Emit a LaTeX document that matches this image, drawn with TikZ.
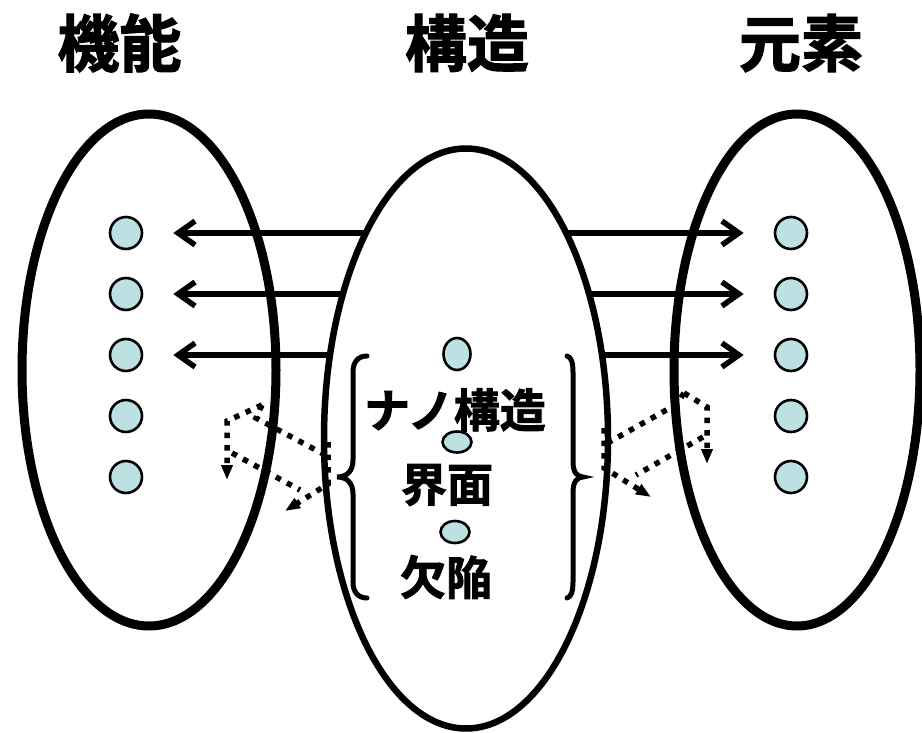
\documentclass[tikz,border=0pt]{standalone}
\usepackage{fontspec}
\newfontfamily\cjk{Noto Sans CJK JP}[BoldFont={Noto Sans CJK JP Bold}, BoldFeatures={FakeBold=2}]
\usetikzlibrary{arrows.meta,shapes.geometric}
\definecolor{dotfill}{RGB}{189,224,227}
\begin{document}
\begin{tikzpicture}[x=1pt,y=-1pt,
  bigell/.style={draw, line width=9pt},
  dotc/.style={circle, draw, line width=2.6pt, fill=dotfill, minimum size=32pt, inner sep=0pt},
  mdot/.style={ellipse, draw, line width=2.6pt, fill=dotfill, inner sep=0pt},
  arr/.style={line width=5.5pt, -{Straight Barb[length=17pt,width=24pt]}, shorten >=30pt},
  dotarr/.style={line width=5.5pt, dash pattern=on 5.5pt off 7pt},
  dtip/.style={-{Triangle[length=15pt,width=11pt]}},
  title/.style={font=\cjk\bfseries\fontsize{62}{62}\selectfont, inner sep=0pt},
  lbl/.style={font=\cjk\bfseries\fontsize{46}{46}\selectfont, inner sep=0pt},
  brace/.style={line width=5pt, line cap=round}
]
\useasboundingbox (0,0) rectangle (922,733);

% titles
\node[title] (t1) at (119.5,43) {機能};
\node[title] (t2) at (467,43) {構造};
\node[title] (t3) at (801,43) {元素};

% outer ellipses
\draw[bigell] (149,370) ellipse [x radius=127, y radius=256];
\draw[bigell] (797,370) ellipse [x radius=123, y radius=256];

% left and right dots
\foreach \i/\y in {1/233,2/294,3/355,4/416,5/477}{
  \node[dotc] (l\i) at (126,\y) {};
  \node[dotc] (r\i) at (791,\y) {};
}

% arrow start points (inside middle ellipse, covered by its fill)
\coordinate (s1) at (466,233);
\coordinate (s2) at (466,294);
\coordinate (s3) at (466,355);
\foreach \i in {1,2,3}{
  \draw[arr] (s\i) -- (l\i);
  \draw[arr] (s\i) -- (r\i);
}

% middle ellipse
\draw[line width=6.5pt, fill=white] (466,438.5) ellipse [x radius=142, y radius=290];

% middle labels
\node[lbl] (n1) at (455,410) {ナノ構造};
\node[lbl] (n2) at (447,485) {界面};
\node[lbl] (n3) at (446,577) {欠陥};

% middle dots
\node[mdot, minimum width=27pt, minimum height=32pt] (m1) at (457,354) {};
\node[mdot, minimum width=29pt, minimum height=21pt] (m2) at (457,442) {};
\node[mdot, minimum width=29pt, minimum height=22pt] (m3) at (455,532) {};

% braces
\draw[brace] (367,356) .. controls (358,356) and (353,362) .. (353,372)
  -- (353,460) .. controls (353,471) and (347,477) .. (337,477)
  .. controls (347,477) and (353,483) .. (353,494)
  -- (353,582) .. controls (353,592) and (358,598) .. (367,598);
\draw[brace] (567,356) .. controls (571,357) and (573,362) .. (573,372)
  -- (573,462) .. controls (573,472) and (577,477) .. (583,477)
  .. controls (577,477) and (573,482) .. (573,492)
  -- (573,582) .. controls (573,592) and (571,597) .. (567,598);

% left dotted arrows
\coordinate (la) at (227,480);
\coordinate (lc) at (227,421);
\coordinate (lt) at (262,405);
\coordinate (lk) at (256,418);
\coordinate (lm) at (329,457);
\coordinate (lv1) at (328,442);
\coordinate (lv2) at (328,484);
\coordinate (lb) at (285,511);
\coordinate (ls) at (232,453);
\coordinate (le) at (300,490);
\draw[dotarr,dtip] (lt) -- (lc) -- (la);
\draw[dotarr] (lt) -- (lk) -- (lm);
\draw[dotarr,dtip] (lv1) -- (lv2) -- (lb);
\draw[dotarr] (ls) -- (le);

% right dotted arrows
\coordinate (ra) at (707,464);
\coordinate (rc) at (707,407);
\coordinate (rt) at (684,393);
\coordinate (rk) at (677,404);
\coordinate (rm) at (604,445);
\coordinate (rv1) at (604,428);
\coordinate (rv2) at (604,468);
\coordinate (rb) at (651,497);
\coordinate (rs) at (703,437);
\coordinate (re) at (636,475);
\draw[dotarr,dtip] (rt) -- (rc) -- (ra);
\draw[dotarr] (rt) -- (rk) -- (rm);
\draw[dotarr,dtip] (rv1) -- (rv2) -- (rb);
\draw[dotarr] (rs) -- (re);
\end{tikzpicture}
\end{document}
